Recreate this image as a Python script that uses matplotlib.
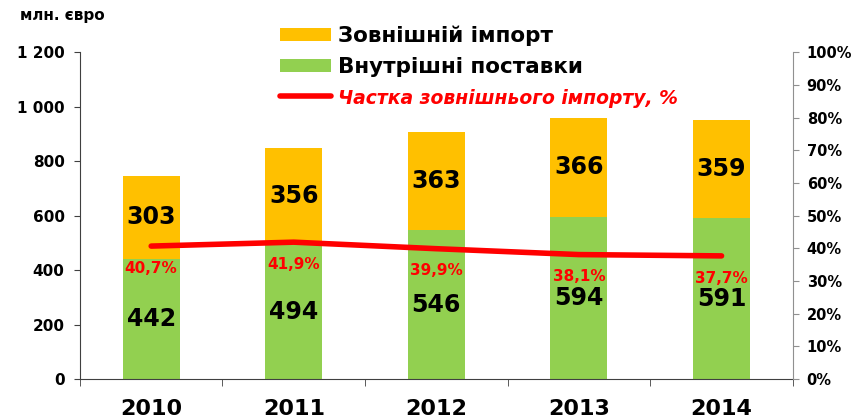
import matplotlib
matplotlib.use("Agg")
import matplotlib.pyplot as plt
import numpy as np
from matplotlib.patches import Patch
from matplotlib.lines import Line2D

plt.rcParams['font.family'] = ['DejaVu Sans']

years = ['2010', '2011', '2012', '2013', '2014']
domestic = [442, 494, 546, 594, 591]
imported = [303, 356, 363, 366, 359]
share = [40.7, 41.9, 39.9, 38.1, 37.7]
share_labels = ['40,7%', '41,9%', '39,9%', '38,1%', '37,7%']

c_imp = '#FFC000'
c_dom = '#92D050'
c_red = '#FF0000'

fig = plt.figure(figsize=(8.59, 4.18), dpi=100)
ax = fig.add_axes([0.093, 0.093, 0.83, 0.782])
x = np.arange(len(years))
w = 0.4

ax.bar(x, domestic, w, color=c_dom, zorder=2)
ax.bar(x, imported, w, bottom=domestic, color=c_imp, zorder=2)

for i in range(len(years)):
    ax.text(x[i], domestic[i] / 2, str(domestic[i]), ha='center', va='center',
            fontsize=17, fontweight='bold', color='black', zorder=5)
    ax.text(x[i], domestic[i] + imported[i] / 2, str(imported[i]), ha='center', va='center',
            fontsize=17, fontweight='bold', color='black', zorder=5)

ax.set_ylim(0, 1200)
ax.set_xlim(-0.5, 4.5)
ax.set_yticks(range(0, 1201, 200))
ax.set_yticklabels(['0', '200', '400', '600', '800', '1 000', '1 200'],
                   fontsize=11, fontweight='bold')
ax.set_xticks(x)
ax.set_xticklabels(years, fontsize=16, fontweight='bold')
ax.set_xticks(np.arange(-0.5, 4.6, 1), minor=True)
ax.tick_params(axis='x', which='major', length=0, pad=14)
ax.tick_params(axis='x', which='minor', length=5, color='#404040')
ax.tick_params(axis='y', length=4, color='#404040', pad=7)
ax.spines['top'].set_visible(False)
ax.spines['right'].set_visible(False)
ax.spines['left'].set_color('#404040')
ax.spines['bottom'].set_color('#404040')

ax2 = ax.twinx()
ax2.set_ylim(0, 100)
ax2.set_yticks(range(0, 101, 10))
ax2.set_yticklabels([f'{v}%' for v in range(0, 101, 10)], fontsize=10.5, fontweight='bold')
ax2.tick_params(axis='y', length=4, color='#909090', pad=6)
ax2.spines['top'].set_visible(False)
ax2.spines['left'].set_visible(False)
ax2.spines['bottom'].set_visible(False)
ax2.spines['right'].set_color('#909090')
ax2.plot(x, share, color=c_red, lw=4, solid_capstyle='round', solid_joinstyle='round', zorder=4)
for i in range(len(years)):
    ax2.annotate(share_labels[i], (x[i], share[i]), xytext=(0, -16), textcoords='offset points',
                 ha='center', va='center', fontsize=11, fontweight='bold', color=c_red)

fig.text(0.023, 0.963, 'млн. євро', fontsize=11, fontweight='bold', va='center')

handles = [Patch(facecolor=c_imp), Patch(facecolor=c_dom),
           Line2D([0], [0], color=c_red, lw=4, solid_capstyle='round')]
labels = ['Зовнішній імпорт', 'Внутрішні поставки', 'Частка зовнішнього імпорту, %']
leg = fig.legend(handles, labels, loc='upper left', bbox_to_anchor=(0.303, 0.985),
                 frameon=False, handlelength=2.4, handleheight=0.55, labelspacing=0.52,
                 handletextpad=0.3, prop={'size': 15.5, 'weight': 'bold'})
t = leg.get_texts()[2]
t.set_color(c_red)
t.set_fontstyle('italic')
t.set_fontsize(13.5)

fig.savefig('out.png', dpi=100)
